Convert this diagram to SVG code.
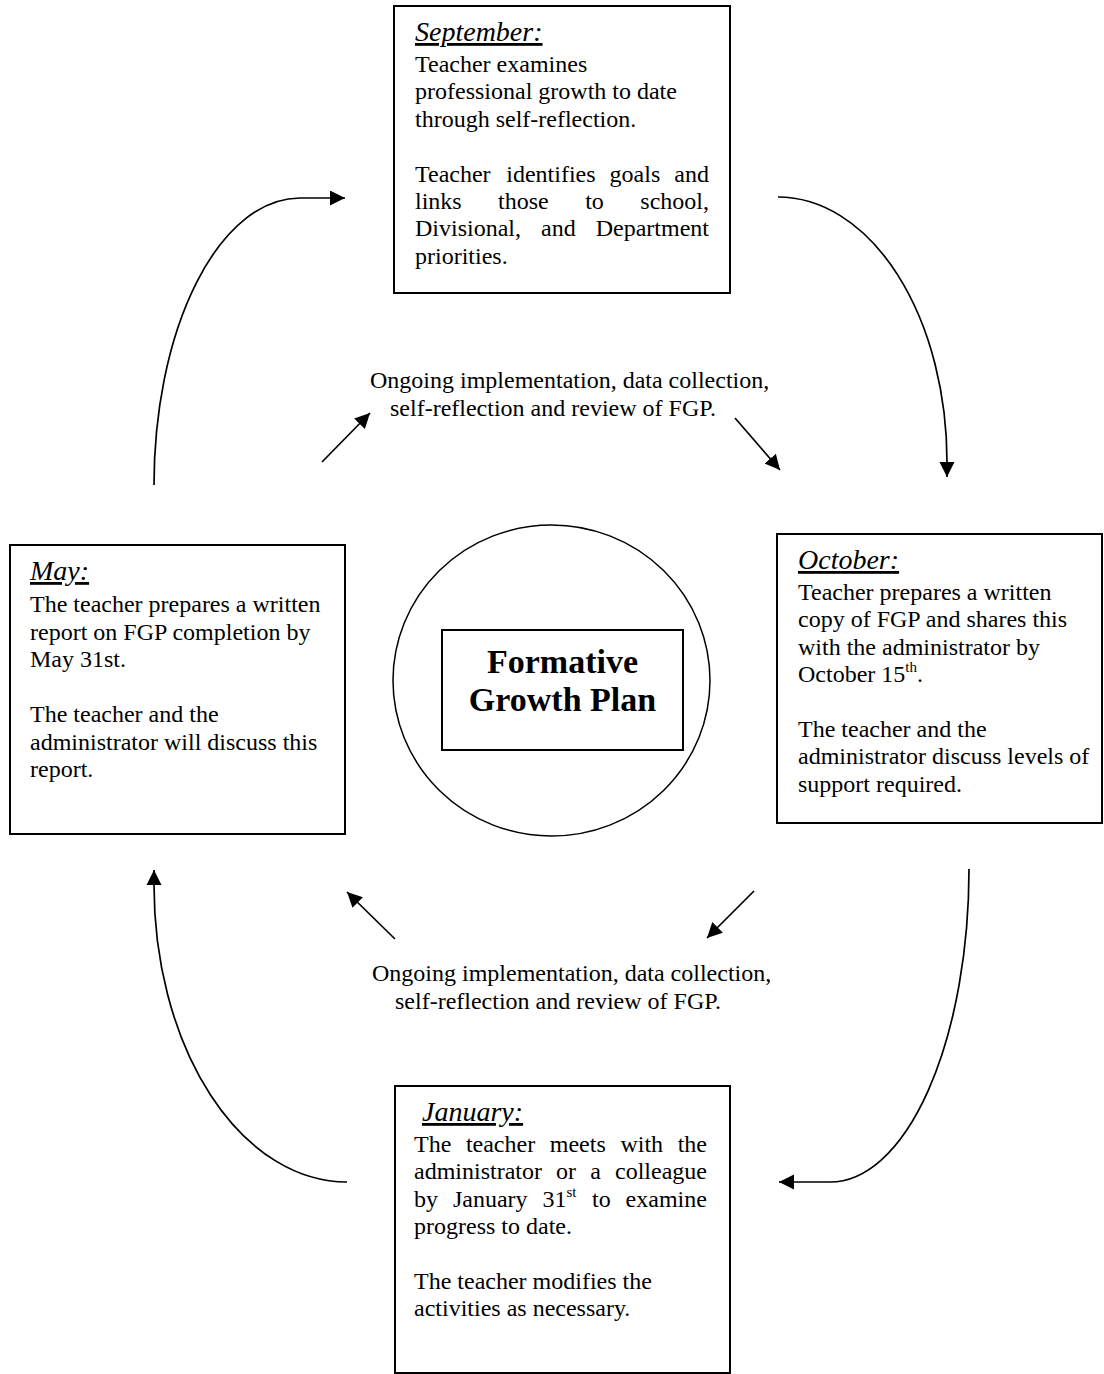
<svg xmlns="http://www.w3.org/2000/svg" width="1104" height="1374" viewBox="0 0 1104 1374">
<style>
.box{fill:#fff;stroke:#000;stroke-width:2}
.t{font-family:"Liberation Serif","Times New Roman",serif;font-size:24px;fill:#000}
.h{font-family:"Liberation Serif","Times New Roman",serif;font-size:28px;font-style:italic;text-decoration:underline;fill:#000}
.c{font-family:"Liberation Serif","Times New Roman",serif;font-size:34px;font-weight:bold;fill:#000;text-anchor:middle}
.sup{font-size:15px}
.conn{fill:none;stroke:#000;stroke-width:1.7}
</style>
<defs>
<marker id="ah" markerUnits="userSpaceOnUse" markerWidth="16" markerHeight="16" refX="15" refY="7.5" orient="auto">
<path d="M0,0 L15,7.5 L0,15 z" fill="#000"/>
</marker>
</defs>
<rect width="1104" height="1374" fill="#fff"/>

<g id="connectors">
<path class="conn" d="M154,485 A146,287 0 0 1 300,198 L345,198" marker-end="url(#ah)"/>
<path class="conn" d="M778,197 A169,265 0 0 1 947,462 L947,477" marker-end="url(#ah)"/>
<path class="conn" d="M969,869 A139,313 0 0 1 830,1182 L779,1182" marker-end="url(#ah)"/>
<path class="conn" d="M347,1182 A193,297 0 0 1 154,885 L154,870" marker-end="url(#ah)"/>
<path class="conn" d="M322,462 L370,413" marker-end="url(#ah)"/>
<path class="conn" d="M735,418 L780,470" marker-end="url(#ah)"/>
<path class="conn" d="M754,891 L707,938" marker-end="url(#ah)"/>
<path class="conn" d="M395,939 L347,892" marker-end="url(#ah)"/>
</g>

<g id="label-top">
<text class="t" x="370" y="388">Ongoing implementation, data collection,</text>
<text class="t" x="390" y="416">self-reflection and review of FGP.</text>
</g>
<g id="label-bottom">
<text class="t" x="372" y="981">Ongoing implementation, data collection,</text>
<text class="t" x="395" y="1009">self-reflection and review of FGP.</text>
</g>

<g id="september">
<rect class="box" x="394" y="6" width="336" height="287"/>
<text class="h" x="415" y="41">September:</text>
<text class="t" x="415" y="72">Teacher examines</text>
<text class="t" x="415" y="99.4">professional growth to date</text>
<text class="t" x="415" y="126.8">through self-reflection.</text>
<text class="t" y="181.6"><tspan x="415">Teacher</tspan><tspan x="506.3">identifies</tspan><tspan x="609.6">goals</tspan><tspan x="674.3">and</tspan></text>
<text class="t" y="209"><tspan x="415">links</tspan><tspan x="498.1">those</tspan><tspan x="585.2">to</tspan><tspan x="640.3">school,</tspan></text>
<text class="t" y="236.4"><tspan x="415">Divisional,</tspan><tspan x="541">and</tspan><tspan x="595.7">Department</tspan></text>
<text class="t" x="415" y="263.8">priorities.</text>
</g>

<g id="october">
<rect class="box" x="777" y="534" width="325" height="289"/>
<text class="h" x="798" y="569">October:</text>
<text class="t" x="798" y="600">Teacher prepares a written</text>
<text class="t" x="798" y="627.4">copy of FGP and shares this</text>
<text class="t" x="798" y="654.8">with the administrator by</text>
<text class="t" x="798" y="682.2">October 15<tspan class="sup" dy="-10">th</tspan><tspan dy="10">.</tspan></text>
<text class="t" x="798" y="737">The teacher and the</text>
<text class="t" x="798" y="764.4">administrator discuss levels of</text>
<text class="t" x="798" y="791.8">support required.</text>
</g>

<g id="may">
<rect class="box" x="10" y="545" width="335" height="289"/>
<text class="h" x="30" y="580">May:</text>
<text class="t" x="30" y="612">The teacher prepares a written</text>
<text class="t" x="30" y="639.5">report on FGP completion by</text>
<text class="t" x="30" y="667">May 31st.</text>
<text class="t" x="30" y="722">The teacher and the</text>
<text class="t" x="30" y="749.5">administrator will discuss this</text>
<text class="t" x="30" y="777">report.</text>
</g>

<g id="january">
<rect class="box" x="395" y="1086" width="335" height="287"/>
<text class="h" x="422" y="1121">January:</text>
<text class="t" y="1152"><tspan x="414">The</tspan><tspan x="465.9">teacher</tspan><tspan x="549.8">meets</tspan><tspan x="620.4">with</tspan><tspan x="677.7">the</tspan></text>
<text class="t" y="1179.4"><tspan x="414">administrator</tspan><tspan x="556.1">or</tspan><tspan x="590.2">a</tspan><tspan x="615">colleague</tspan></text>
<text class="t" y="1206.8"><tspan x="414">by</tspan><tspan x="452.9">January</tspan><tspan x="542.4">31</tspan><tspan class="sup" dy="-10">st</tspan><tspan x="592" dy="10">to</tspan><tspan x="625.6">examine</tspan></text>
<text class="t" x="414" y="1234.2">progress to date.</text>
<text class="t" x="414" y="1289">The teacher modifies the</text>
<text class="t" x="414" y="1316.4">activities as necessary.</text>
</g>

<g id="center">
<ellipse cx="551.5" cy="680.5" rx="158.5" ry="155.5" fill="none" stroke="#000" stroke-width="1.5"/>
<rect class="box" x="442" y="630" width="241" height="120"/>
<text class="c" x="562.5" y="673">Formative</text>
<text class="c" x="562.5" y="711">Growth Plan</text>
</g>
</svg>
